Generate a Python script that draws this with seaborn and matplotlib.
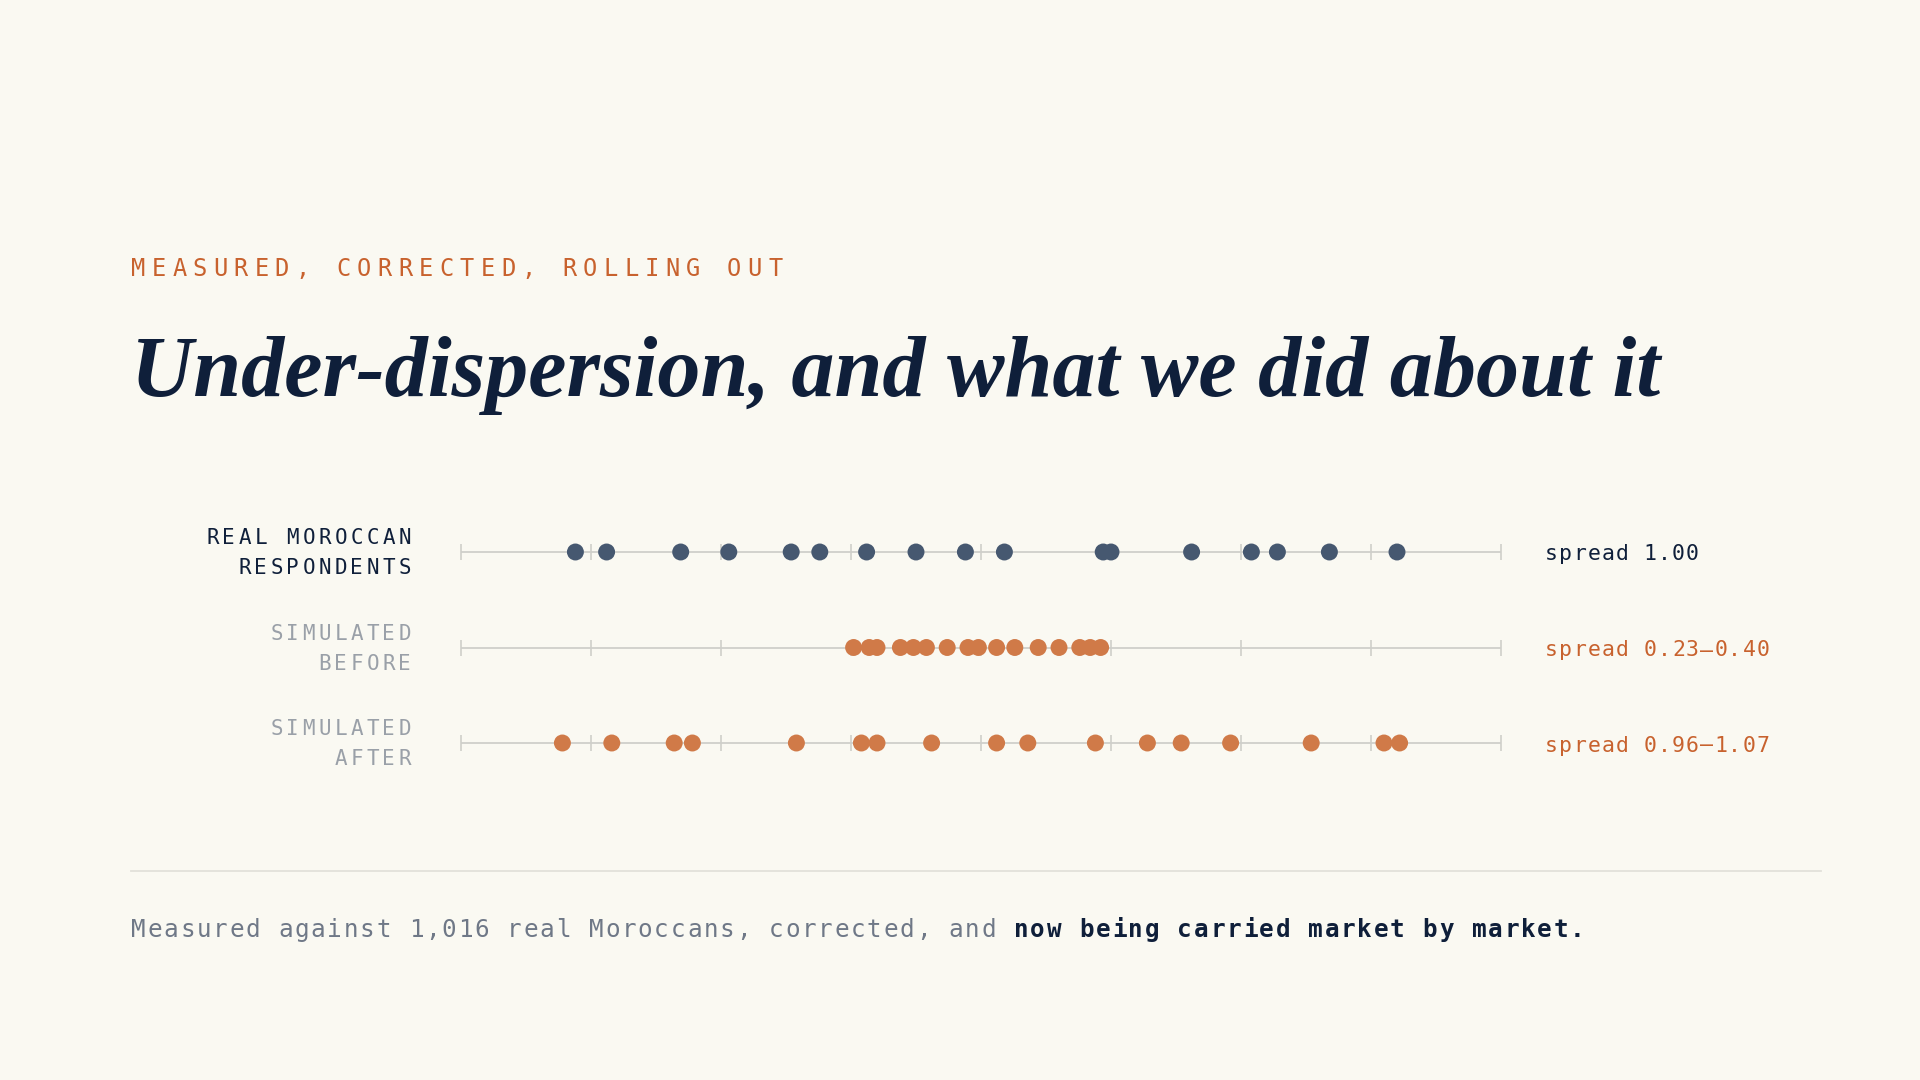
import pandas as pd
import seaborn as sns
import matplotlib.pyplot as plt
from matplotlib.lines import Line2D

# dot positions (standardised units, axis -2..2)
real_vals = [-1.56, -1.44, -1.155, -0.97, -0.73, -0.62, -0.44, -0.25, -0.06, 0.09,
             0.47, 0.50, 0.81, 1.04, 1.14, 1.34, 1.60]
before_vals = [-0.49, -0.43, -0.40, -0.31, -0.26, -0.21, -0.13, -0.05, -0.01, 0.06,
               0.13, 0.22, 0.30, 0.38, 0.42, 0.46]
after_vals = [-1.61, -1.42, -1.18, -1.11, -0.71, -0.46, -0.40, -0.19, 0.06, 0.18,
              0.44, 0.64, 0.77, 0.96, 1.27, 1.55, 1.61]
row_names = ["real", "before", "after"]
row_labels = [["REAL MOROCCAN", "RESPONDENTS"], ["SIMULATED", "BEFORE"], ["SIMULATED", "AFTER"]]
spread_labels = ["spread 1.00", "spread 0.23\u20130.40", "spread 0.96\u20131.07"]
axis_ticks = [-2, -1.5, -1, -0.5, 0, 0.5, 1, 1.5, 2]

BG = "#faf9f2"
NAVY = "#0f1f3a"
SLATE = "#465870"
ORANGE = "#d07a48"
RUST = "#c8622e"
GRAY = "#9aa0a8"
FOOT_GRAY = "#6f7887"
MONO = "DejaVu Sans Mono"

W, H = 1920, 1080
fig = plt.figure(figsize=(19.2, 10.8), dpi=100, facecolor=BG)


def px(x, y):
    return x / W, 1 - y / H


def tracked(x, y, s, pitch, align="left", **kw):
    # monospace text with letter spacing, drawn one char at a time
    n = len(s)
    for i, ch in enumerate(s):
        if ch == " ":
            continue
        if align == "left":
            cx, ha = x + i * pitch, "left"
        else:
            cx, ha = x - (n - 1 - i) * pitch, "right"
        fig.text(*px(cx, y), ch, ha=ha, va="baseline", family=MONO, **kw)


# header
tracked(131, 276, "MEASURED, CORRECTED, ROLLING OUT", 20.55, fontsize=17, color=RUST)

title = fig.text(*px(131, 396), "Under-dispersion, and what we did about it",
                 family="Liberation Serif", style="italic", weight="bold", fontsize=66,
                 color=NAVY, ha="left", va="baseline")
r = fig.canvas.get_renderer()
w = title.get_window_extent(r).width
title.set_fontsize(66 * 1528 / w)

# dot strip
df = pd.DataFrame({
    "value": real_vals + before_vals + after_vals,
    "row": ["real"] * len(real_vals) + ["before"] * len(before_vals) + ["after"] * len(after_vals),
})

row_y = [552, 648, 743]
step = (row_y[2] - row_y[0]) / 2
top = row_y[0] - step / 2
bottom = row_y[2] + step / 2
ax = fig.add_axes([461 / W, 1 - bottom / H, 1040 / W, (bottom - top) / H])
ax.set_facecolor("none")

for i in range(3):
    ax.hlines(i, axis_ticks[0], axis_ticks[-1], color="#d2d2cd", lw=1.4, zorder=1, clip_on=False)
    ax.vlines(axis_ticks, i - 8 / step, i + 8 / step, color="#cfcfca", lw=1.2, zorder=1, clip_on=False)

sns.stripplot(data=df, x="value", y="row", hue="row", order=row_names,
              palette={"real": SLATE, "before": ORANGE, "after": ORANGE},
              jitter=False, size=12.2, linewidth=0, legend=False, ax=ax, zorder=3)
ax.set_xlim(axis_ticks[0], axis_ticks[-1])
ax.set_ylim(2.5, -0.5)
ax.axis("off")

# row labels and spread values
for i, (lines, yc) in enumerate(zip(row_labels, row_y)):
    c = NAVY if i == 0 else GRAY
    tracked(411, yc - 8, lines[0], 16.0, align="right", fontsize=15, color=c)
    tracked(411, yc + 22, lines[1], 16.0, align="right", fontsize=15, color=c)
    tracked(1545, yc + 8.5, spread_labels[i], 14.1, fontsize=15.5, color=NAVY if i == 0 else RUST)

# rule + footer
fig.add_artist(Line2D([131 / W, 1821 / W], [1 - 871 / H] * 2, color="#e2e1da", lw=1.3))
part1 = "Measured against 1,016 real Moroccans, corrected, and "
part2 = "now being carried market by market."
tracked(131, 937, part1, 16.35, fontsize=17.5, color=FOOT_GRAY)
tracked(131 + len(part1) * 16.35, 937, part2, 16.35, fontsize=17.5, color=NAVY, weight="bold")

fig.savefig("out.png", dpi=100, facecolor=BG)
